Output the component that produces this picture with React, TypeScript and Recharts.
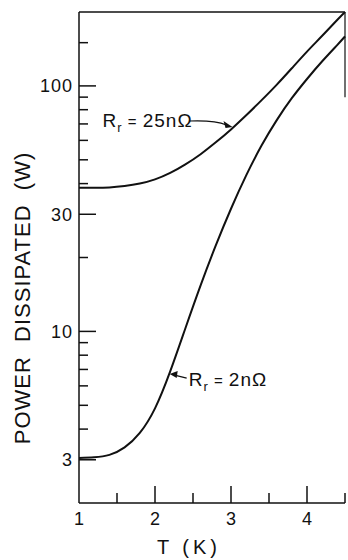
import { LineChart, Line, XAxis, YAxis, ReferenceLine, ReferenceDot } from "recharts";

// temperature (K) and dissipated power (W)
const temps = [1.0, 1.2, 1.4, 1.6, 1.8, 2.0, 2.2, 2.4, 2.6, 2.8, 3.0, 3.2, 3.4, 3.6, 3.8, 4.0, 4.2, 4.4, 4.5];
const power25 = [38.5, 38.5, 38.6, 39.1, 40.0, 41.6, 44.2, 47.9, 52.7, 58.9, 66.5, 75.9, 87.3, 101, 118, 138, 160, 186, 200];
const power2 = [3.05, 3.07, 3.14, 3.37, 3.86, 4.86, 6.87, 10.3, 15.4, 22.4, 31.6, 43.2, 57, 72.4, 89.1, 106.7, 126, 147, 159];

const xTicks = [1, 1.5, 2, 2.5, 3, 3.5, 4, 4.5];
const xLabels = [1, 2, 3, 4];
const yTicks = [3, 4, 5, 6, 7, 8, 9, 10, 20, 30, 40, 50, 60, 70, 80, 90, 100, 150];
const yLabels = [3, 10, 30, 100];

const data = temps.map((t, i) => ({ t, r25: power25[i], r2: power2[i] }));

const INK = "#111";
const FONT = "'Liberation Sans', Arial, sans-serif";

function XTick(props: any) {
  const { x, y, payload } = props;
  const v = payload.value;
  const major = xLabels.includes(v);
  return (
    <g>
      {v !== 1 && (
        <line x1={x} x2={x} y1={y} y2={y - (major ? 17 : 10)} stroke={INK} strokeWidth={1.5} />
      )}
      {major && (
        <text x={x} y={y + 22} textAnchor="middle" fontSize={18} fontFamily={FONT} fill={INK}>
          {v}
        </text>
      )}
    </g>
  );
}

function YTick(props: any) {
  const { x, y, payload } = props;
  const v = payload.value;
  const major = yLabels.includes(v);
  return (
    <g>
      <line x1={x} x2={x + (major ? 17 : 9)} y1={y} y2={y} stroke={INK} strokeWidth={1.5} />
      {major && (
        <text x={x - 6} y={y} dy="0.36em" textAnchor="end" fontSize={18} letterSpacing={1} fontFamily={FONT} fill={INK}>
          {v}
        </text>
      )}
    </g>
  );
}

function Label25(props: any) {
  const { cx, cy } = props;
  return (
    <g>
      <text x={cx - 130} y={cy} fontSize={19} fontFamily={FONT} fill={INK} letterSpacing={1}>
        R<tspan dy={5} fontSize={13}>r</tspan>
        <tspan dy={-5} fontSize={15}> = </tspan>25nΩ
      </text>
      <path d={`M ${cx - 43} ${cy - 6} Q ${cx - 18} ${cy - 7} ${cx - 6} ${cy - 2}`} fill="none" stroke={INK} strokeWidth={1.2} />
      <path d={`M ${cx} ${cy} L ${cx - 9} ${cy - 6} L ${cx - 7} ${cy + 1} Z`} fill={INK} />
    </g>
  );
}

function Label2(props: any) {
  const { cx, cy } = props;
  return (
    <g>
      <text x={cx + 20} y={cy + 12} fontSize={19} fontFamily={FONT} fill={INK} letterSpacing={1}>
        R<tspan dy={5} fontSize={13}>r</tspan>
        <tspan dy={-5} fontSize={15}> = </tspan>2nΩ
      </text>
      <line x1={cx + 18} y1={cy + 4} x2={cx + 6} y2={cy + 1} stroke={INK} strokeWidth={1.2} />
      <path d={`M ${cx + 1} ${cy} L ${cx + 9} ${cy - 3} L ${cx + 8} ${cy + 4} Z`} fill={INK} />
    </g>
  );
}

export default function App() {
  return (
    <div style={{ position: "absolute", left: 0, top: 0, width: 348, height: 560, background: "#fff" }}>
      <LineChart width={348} height={560} data={data} margin={{ top: 12, right: 3, bottom: 0, left: 19 }}>
        <XAxis
          dataKey="t"
          type="number"
          domain={[1, 4.5]}
          ticks={xTicks}
          height={57}
          tickSize={0}
          tickMargin={0}
          tickLine={false}
          axisLine={{ stroke: INK, strokeWidth: 1.5 }}
          tick={<XTick />}
          interval={0}
        />
        <YAxis
          type="number"
          scale="log"
          domain={[2, 200]}
          allowDataOverflow
          ticks={yTicks}
          width={60}
          tickSize={0}
          tickMargin={0}
          tickLine={false}
          axisLine={{ stroke: INK, strokeWidth: 1.5 }}
          tick={<YTick />}
          interval={0}
        />
        <ReferenceLine y={200} stroke={INK} strokeWidth={1.5} />
        <ReferenceLine segment={[{ x: 4.5, y: 200 }, { x: 4.5, y: 90 }]} stroke={INK} strokeWidth={1.2} />
        <Line type="natural" dataKey="r25" stroke={INK} strokeWidth={2} dot={false} isAnimationActive={false} />
        <Line type="natural" dataKey="r2" stroke={INK} strokeWidth={2} dot={false} isAnimationActive={false} />
        <ReferenceDot x={3.02} y={68} r={0} ifOverflow="visible" shape={<Label25 />} />
        <ReferenceDot x={2.18} y={6.7} r={0} ifOverflow="visible" shape={<Label2 />} />
      </LineChart>
      <svg width={348} height={560} style={{ position: "absolute", left: 0, top: 0, pointerEvents: "none" }}>
        <text x={189} y={554} textAnchor="middle" fontSize={20} letterSpacing={4} fontFamily={FONT} fill={INK}>
          T (K)
        </text>
        <text
          transform="translate(30 298) rotate(-90)"
          textAnchor="middle"
          fontSize={22}
          letterSpacing={1}
          fontFamily={FONT}
          fill={INK}
          style={{ whiteSpace: "pre" }}
        >
          {"POWER  DISSIPATED  (W)"}
        </text>
      </svg>
    </div>
  );
}
